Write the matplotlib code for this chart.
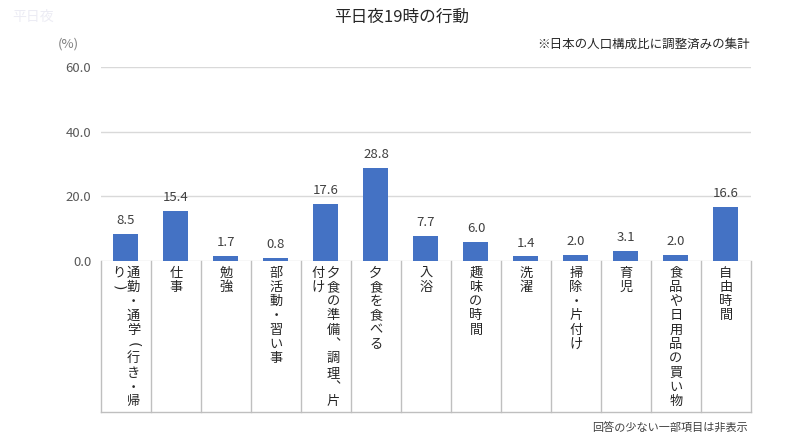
import matplotlib
matplotlib.use("Agg")
import matplotlib.pyplot as plt
import matplotlib.transforms as mtransforms

plt.rcParams['font.family'] = ['Noto Sans CJK JP', 'DejaVu Sans']

categories = ["通勤・通学（行き・帰り）", "仕事", "勉強", "部活動・習い事",
              "夕食の準備、調理、片付け", "夕食を食べる", "入浴", "趣味の時間",
              "洗濯", "掃除・片付け", "育児", "食品や日用品の買い物", "自由時間"]
values = [8.5, 15.4, 1.7, 0.8, 17.6, 28.8, 7.7, 6.0, 1.4, 2.0, 3.1, 2.0, 16.6]
yticks = [0, 20, 40, 60]
title = "平日夜19時の行動"
note_top = "※日本の人口構成比に調整済みの集計"
note_bottom = "回答の少ない一部項目は非表示"
unit = "(%)"

W, H = 803, 445
fig = plt.figure(figsize=(W / 100, H / 100), dpi=100)
fig.patch.set_facecolor('white')

ax_left, ax_right, ax_top, ax_bot = 101, 751, 67, 261
ax = fig.add_axes([ax_left / W, 1 - ax_bot / H, (ax_right - ax_left) / W, (ax_bot - ax_top) / H])
axh = ax_bot - ax_top

n = len(categories)
x = list(range(n))
ax.bar(x, values, width=0.5, color='#4472C4', zorder=3)
ax.set_xlim(-0.5, n - 0.5)
ax.set_ylim(0, 60)
ax.set_yticks(yticks)
ax.set_yticklabels([f"{v:.1f}" for v in yticks], color='#595959', fontsize=9.5)
ax.tick_params(axis='y', length=0, pad=7)
ax.set_xticks([])
ax.yaxis.grid(True, color='#d9d9d9', linewidth=1, zorder=0)
for s in ax.spines.values():
    s.set_visible(False)

for xi, v in zip(x, values):
    ax.annotate(f"{v:.1f}", (xi, v), xytext=(0, 5), textcoords='offset points',
                ha='center', va='bottom', fontsize=9.5, color='#404040')

# category table lines
trans = mtransforms.blended_transform_factory(ax.transData, ax.transAxes)
bottom_frac = (ax_bot - 412) / axh
for b in range(n + 1):
    ax.plot([b - 0.5, b - 0.5], [0, bottom_frac], transform=trans, color='#bfbfbf',
            linewidth=1, clip_on=False)
ax.plot([-0.5, n - 0.5], [bottom_frac, bottom_frac], transform=trans, color='#bfbfbf',
        linewidth=1, clip_on=False)

# vertical category labels
rot_map = {'（': '(', '）': ')'}
vmap = {'、': '︑'}
per_col = 10
step_px = 14.3
col_px = 15.0
unit_w = (ax_right - ax_left) / n
for xi, lab in zip(x, categories):
    chunks = [lab[i:i + per_col] for i in range(0, len(lab), per_col)]
    ncol = len(chunks)
    for ci, chunk in enumerate(chunks):
        off_px = ((ncol - 1) / 2 - ci) * col_px
        xd = xi + off_px / unit_w
        for k, ch in enumerate(chunk):
            ypx = 273 + k * step_px
            yf = (ax_bot - ypx) / axh
            if ch in rot_map:
                ax.text(xd, yf, rot_map[ch], transform=trans, rotation=-90,
                        ha='center', va='center', fontsize=10, color='#262626',
                        family='DejaVu Sans', clip_on=False)
            else:
                ax.text(xd, yf, vmap.get(ch, ch), transform=trans,
                        ha='center', va='center', fontsize=9.5, color='#262626', clip_on=False)

fig.text(12 / W, 1 - 17 / H, "平日夜", ha='left', va='center', fontsize=10, color='#ececf4')
fig.text(402 / W, 1 - 17 / H, title, ha='center', va='center', fontsize=12, color='#262626')
fig.text(68 / W, 1 - 44 / H, unit, ha='center', va='center', fontsize=9.5, color='#7f7f7f')
fig.text(750 / W, 1 - 44 / H, note_top, ha='right', va='center', fontsize=9, color='#262626')
fig.text(748 / W, 1 - 428 / H, note_bottom, ha='right', va='center', fontsize=8, color='#404040')

fig.savefig("out.png", dpi=100)
